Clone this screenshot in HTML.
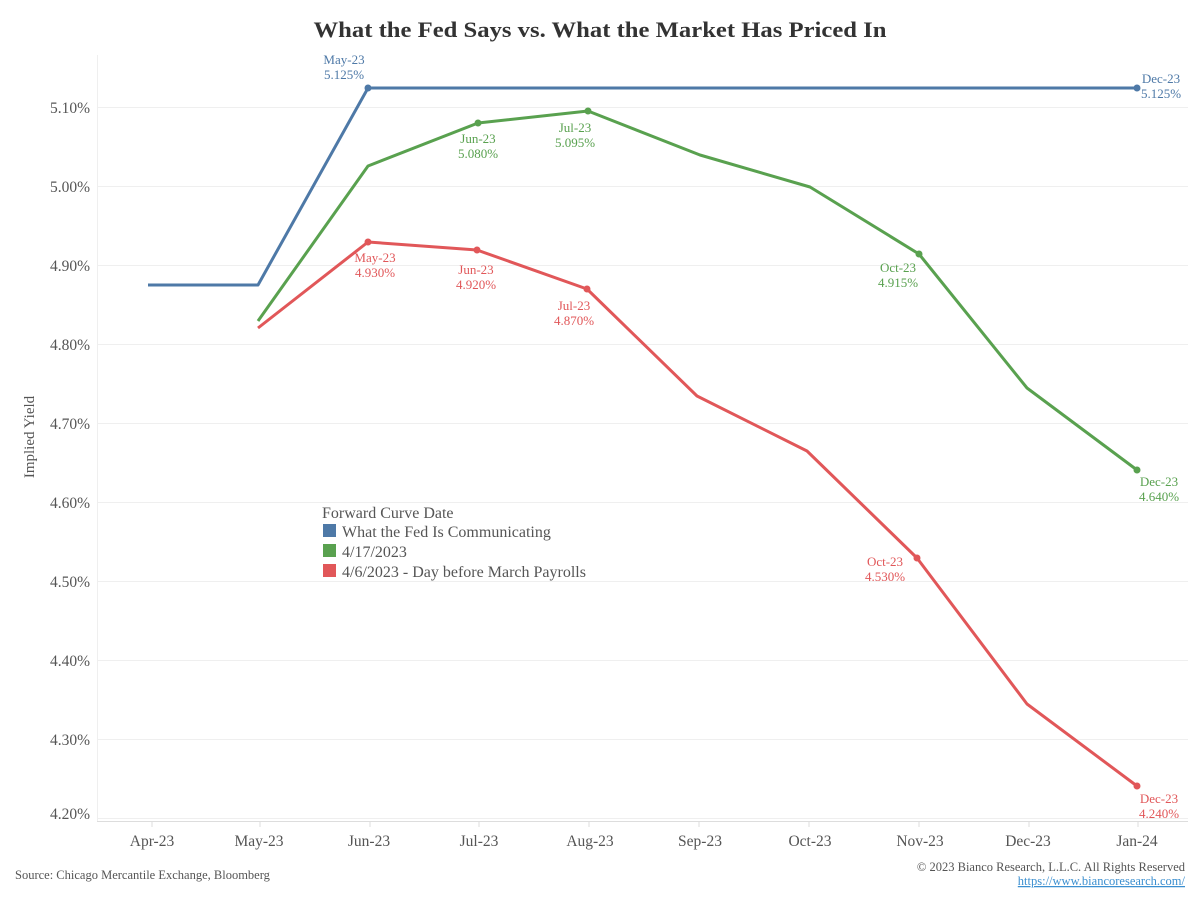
<!DOCTYPE html>
<html><head><meta charset="utf-8"><style>
body{margin:0;background:#fff;}
svg{display:block;font-family:"Liberation Serif",serif;}
</style></head><body>
<svg width="1200" height="900" viewBox="0 0 1200 900">
<text x="600" y="37" text-anchor="middle" font-size="22" font-weight="bold" fill="#333" textLength="573" lengthAdjust="spacingAndGlyphs">What the Fed Says vs. What the Market Has Priced In</text>
<g stroke="#efefef" stroke-width="1">
<line x1="97" x2="1188" y1="107.5" y2="107.5"/><line x1="97" x2="1188" y1="186.5" y2="186.5"/>
<line x1="97" x2="1188" y1="265.5" y2="265.5"/><line x1="97" x2="1188" y1="344.5" y2="344.5"/>
<line x1="97" x2="1188" y1="423.5" y2="423.5"/><line x1="97" x2="1188" y1="502.5" y2="502.5"/>
<line x1="97" x2="1188" y1="581.5" y2="581.5"/><line x1="97" x2="1188" y1="660.5" y2="660.5"/>
<line x1="97" x2="1188" y1="739.5" y2="739.5"/><line x1="97" x2="1188" y1="818.5" y2="818.5"/>
<line x1="97.5" x2="97.5" y1="55" y2="822"/>
</g>
<line x1="97" x2="1188" y1="821.5" y2="821.5" stroke="#ddd"/>
<g stroke="#ddd">
<line x1="152" x2="152" y1="822" y2="827"/><line x1="260" x2="260" y1="822" y2="827"/><line x1="370" x2="370" y1="822" y2="827"/>
<line x1="479" x2="479" y1="822" y2="827"/><line x1="589" x2="589" y1="822" y2="827"/><line x1="699" x2="699" y1="822" y2="827"/>
<line x1="809" x2="809" y1="822" y2="827"/><line x1="919" x2="919" y1="822" y2="827"/><line x1="1029" x2="1029" y1="822" y2="827"/><line x1="1138" x2="1138" y1="822" y2="827"/>
</g>
<g font-size="15.5" fill="#555" text-anchor="end">
<text x="90" y="113">5.10%</text><text x="90" y="192">5.00%</text><text x="90" y="271">4.90%</text>
<text x="90" y="350">4.80%</text><text x="90" y="429">4.70%</text><text x="90" y="508">4.60%</text>
<text x="90" y="587">4.50%</text><text x="90" y="666">4.40%</text><text x="90" y="745">4.30%</text><text x="90" y="819">4.20%</text>
</g>
<text transform="translate(34,437) rotate(-90)" text-anchor="middle" font-size="15" fill="#555">Implied Yield</text>
<g font-size="15.5" fill="#555" text-anchor="middle">
<text x="152" y="846">Apr-23</text><text x="259" y="846">May-23</text><text x="369" y="846">Jun-23</text>
<text x="479" y="846">Jul-23</text><text x="590" y="846">Aug-23</text><text x="700" y="846">Sep-23</text>
<text x="810" y="846">Oct-23</text><text x="920" y="846">Nov-23</text><text x="1028" y="846">Dec-23</text><text x="1137" y="846">Jan-24</text>
</g>
<g fill="none" stroke-width="3" stroke-linejoin="round">
<polyline stroke="#4e79a7" points="148,285 258,285 368,88 1137,88"/>
<polyline stroke="#59a14f" points="258,321 368,166 478,123 588,111 700,155 810,187 919,254 1027,388 1137,470"/>
<polyline stroke="#e15759" points="258,328 368,242 477,250 587,289 697,396 807,451 917,558 1027,704 1137,786"/>
</g>
<g fill="#4e79a7"><circle cx="368" cy="88" r="3.5"/><circle cx="1137" cy="88" r="3.5"/></g>
<g fill="#59a14f"><circle cx="478" cy="123" r="3.5"/><circle cx="588" cy="111" r="3.5"/><circle cx="919" cy="254" r="3.5"/><circle cx="1137" cy="470" r="3.5"/></g>
<g fill="#e15759"><circle cx="368" cy="242" r="3.5"/><circle cx="477" cy="250" r="3.5"/><circle cx="587" cy="289" r="3.5"/><circle cx="917" cy="558" r="3.5"/><circle cx="1137" cy="786" r="3.5"/></g>
<g font-size="13" text-anchor="middle">
<g fill="#4e79a7"><text x="344" y="64">May-23</text><text x="344" y="79">5.125%</text>
<text x="1161" y="83">Dec-23</text><text x="1161" y="98">5.125%</text></g>
<g fill="#59a14f"><text x="478" y="143">Jun-23</text><text x="478" y="158">5.080%</text>
<text x="575" y="132">Jul-23</text><text x="575" y="147">5.095%</text>
<text x="898" y="272">Oct-23</text><text x="898" y="287">4.915%</text>
<text x="1159" y="486">Dec-23</text><text x="1159" y="501">4.640%</text></g>
<g fill="#e15759"><text x="375" y="262">May-23</text><text x="375" y="277">4.930%</text>
<text x="476" y="274">Jun-23</text><text x="476" y="289">4.920%</text>
<text x="574" y="310">Jul-23</text><text x="574" y="325">4.870%</text>
<text x="885" y="566">Oct-23</text><text x="885" y="581">4.530%</text>
<text x="1159" y="803">Dec-23</text><text x="1159" y="818">4.240%</text></g>
</g>
<g font-size="16" fill="#555">
<text x="322" y="518">Forward Curve Date</text>
<rect x="323" y="524" width="13" height="13" fill="#4e79a7"/><text x="342" y="537">What the Fed Is Communicating</text>
<rect x="323" y="544" width="13" height="13" fill="#59a14f"/><text x="342" y="557">4/17/2023</text>
<rect x="323" y="564" width="13" height="13" fill="#e15759"/><text x="342" y="577">4/6/2023 - Day before March Payrolls</text>
</g>
<text x="15" y="879" font-size="12.5" fill="#555">Source: Chicago Mercantile Exchange, Bloomberg</text>
<text x="1185" y="871" font-size="12.5" fill="#555" text-anchor="end">© 2023 Bianco Research, L.L.C. All Rights Reserved</text>
<text x="1185" y="885" font-size="12.5" fill="#3b8fd0" text-anchor="end" text-decoration="underline">https://www.biancoresearch.com/</text>
</svg>
</body></html>
